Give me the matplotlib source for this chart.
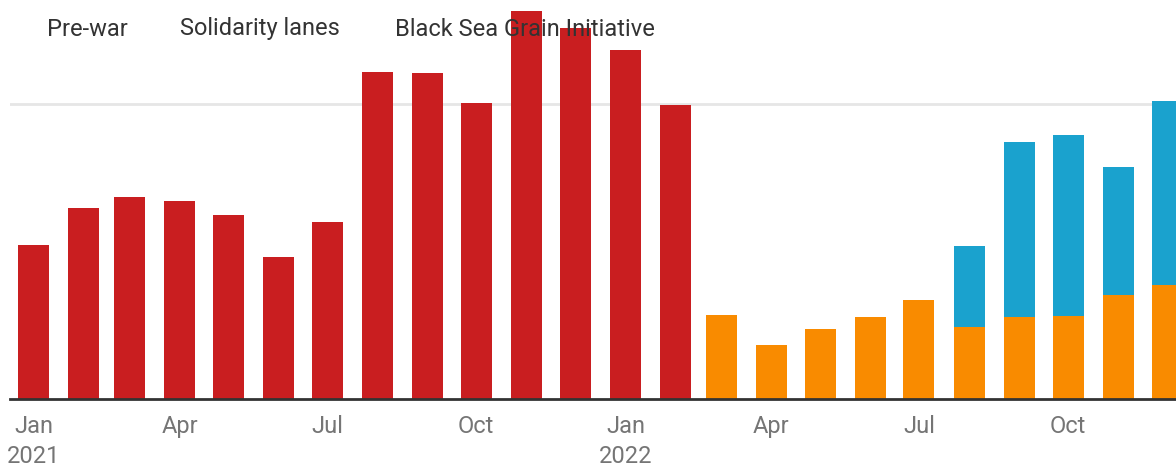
import pandas as pd
import matplotlib
matplotlib.use("Agg")
import matplotlib.pyplot as plt
import matplotlib.dates as mdates

# Monthly grain exports, million tonnes
months = pd.date_range("2021-01-01", "2022-12-01", freq="MS")
prewar = [3.13, 3.88, 4.11, 4.03, 3.74, 2.89, 3.60, 6.65, 6.63, 6.02,
          7.89, 7.55, 7.10, 5.98]
solidarity = [1.71, 1.10, 1.42, 1.67, 2.01, 1.46, 1.67, 1.69, 2.12, 2.32]
black_sea = [0, 0, 0, 0, 0, 1.65, 3.56, 3.68, 2.60, 3.74]

tick_months = ["2021-01-01", "2021-04-01", "2021-07-01", "2021-10-01",
               "2022-01-01", "2022-04-01", "2022-07-01", "2022-10-01"]
tick_labels = ["Jan\n2021", "Apr", "Jul", "Oct", "Jan\n2022", "Apr", "Jul", "Oct"]
legend_labels = ["Pre-war", "Solidarity lanes", "Black Sea Grain Initiative"]

RED = "#c91e20"
ORANGE = "#f98b00"
BLUE = "#1aa2ce"

plt.rcParams["font.family"] = ["Roboto", "DejaVu Sans"]

fig = plt.figure(figsize=(11.76, 4.63), dpi=100)
ax = fig.add_axes([10 / 1176, 64 / 463, 1 - 10 / 1176, 399 / 463])

width = 19.1  # days
ax.bar(months[:14], prewar, width=width, color=RED, zorder=2)
ax.bar(months[14:], solidarity, width=width, color=ORANGE, zorder=2)
ax.bar(months[14:], black_sea, width=width, bottom=solidarity, color=BLUE, zorder=2)

ax.set_xlim(pd.Timestamp("2021-01-01") - pd.Timedelta(days=14.5),
            pd.Timestamp("2021-01-01") + pd.Timedelta(days=704.5))
ax.set_ylim(0, 8.115)

ax.set_yticks([6])
ax.set_yticklabels([])
ax.tick_params(axis="y", length=0)
ax.grid(axis="y", color="#e6e6e6", linewidth=2, zorder=0)

ax.set_xticks([mdates.date2num(pd.Timestamp(t)) for t in tick_months])
ax.set_xticklabels(tick_labels, fontsize=17, color="#757575", linespacing=1.4)
ax.tick_params(axis="x", length=0, pad=11.5)

for side in ["top", "right", "left"]:
    ax.spines[side].set_visible(False)
ax.spines["bottom"].set_color("#333333")
ax.spines["bottom"].set_linewidth(2)
ax.spines["bottom"].set_zorder(3)

for label, x in zip(legend_labels, [47, 180, 395]):
    fig.text(x / 1176, 1 - 29 / 463, label, fontsize=17, color="#333333",
             ha="left", va="center", zorder=5)

fig.savefig("out.png", dpi=100)
